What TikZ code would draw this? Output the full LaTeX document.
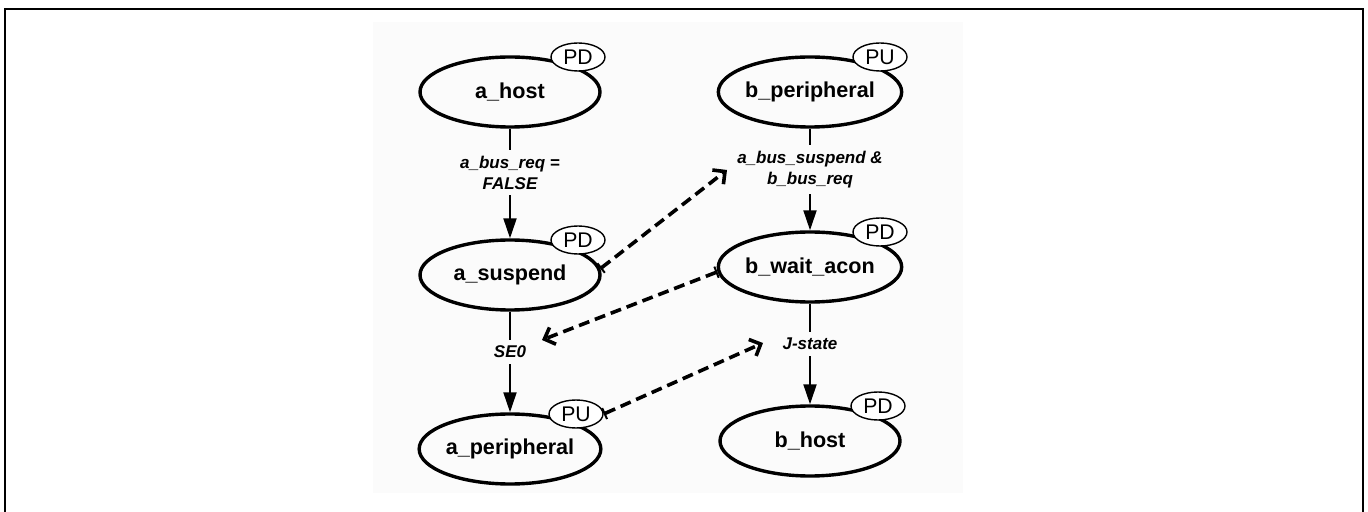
\documentclass[tikz,border=0pt]{standalone}
\usepackage{fontspec}
\setmainfont{Liberation Sans}
\usetikzlibrary{arrows.meta,shapes.geometric}
\definecolor{panel}{RGB}{251,251,251}

\begin{document}
\begin{tikzpicture}[x=0.5pt,y=-0.5pt,
    state/.style={ellipse,draw,line width=1.7pt,minimum width=90pt,minimum height=35pt,inner sep=0pt,
      font=\bfseries\fontsize{10.8}{13}\selectfont},
    pull/.style={ellipse,draw,fill=white,line width=0.7pt,minimum width=27pt,minimum height=14pt,inner sep=0pt,
      font=\fontsize{10.6}{12}\selectfont},
    cond/.style={fill=panel,inner sep=3pt,align=center,font=\bfseries\itshape\fontsize{8.5}{10.5}\selectfont},
    trans/.style={line width=1pt,-{Triangle[length=10pt,width=6.5pt]}},
    sync/.style={line width=1.8pt,dash pattern=on 5.5pt off 3pt,
      {Bar[width=6pt,line width=1pt]}-{Straight Barb[length=4.5pt,width=9pt]}}]
    \useasboundingbox (0,0) rectangle (1368,512);
    \draw[line width=1pt] (5,512) -- (5,9) -- (1363,9) -- (1363,512);
    \fill[panel] (373,22) rectangle (963,493);

    % A-device
    \node[state] (ahost) at (510,92) {a\_host};
    \node[pull] (ahostT) at ([shift={(68,-35)}]ahost.center) {PD};
    \node[state] (asusp) at (510,275) {a\_suspend};
    \node[pull] (asuspT) at ([shift={(68,-35)}]asusp.center) {PD};
    \node[state] (aper) at (510,449) {a\_peripheral};
    \node[pull] (aperT) at ([shift={(66,-35)}]aper.center) {PU};

    % B-device
    \node[state] (bper) at (810,92) {b\_peripheral};
    \node[pull] (bperT) at ([shift={(70,-35)}]bper.center) {PU};
    \node[state] (bwait) at (810,267) {b\_wait\_acon};
    \node[pull] (bwaitT) at ([shift={(70,-35)}]bwait.center) {PD};
    \node[state] (bhost) at (810,441) {b\_host};
    \node[pull] (bhostT) at ([shift={(68,-35)}]bhost.center) {PD};

    \draw[trans] (ahost) -- node[cond,pos=0.4] {a\_bus\_req =\\FALSE} (asusp);
    \draw[trans] (asusp) -- node[cond,pos=0.4] {SE0} (aper);
    \draw[trans] (bper) -- node[cond,pos=0.4] {a\_bus\_suspend \&\\b\_bus\_req} (bwait);
    \draw[trans] (bwait) -- node[cond,pos=0.4] {J-state} (bhost);

    % signalling between the two
    \coordinate (toBper) at (727,170);
    \coordinate (toAsusp) at (542,340);
    \coordinate (toBwait) at (763,343);
    \draw[sync] (asusp.4) -- (toBper);
    \draw[sync] (bwait.183) -- (toAsusp);
    \draw[sync] (aperT.east) -- (toBwait);
\end{tikzpicture}
\end{document}
